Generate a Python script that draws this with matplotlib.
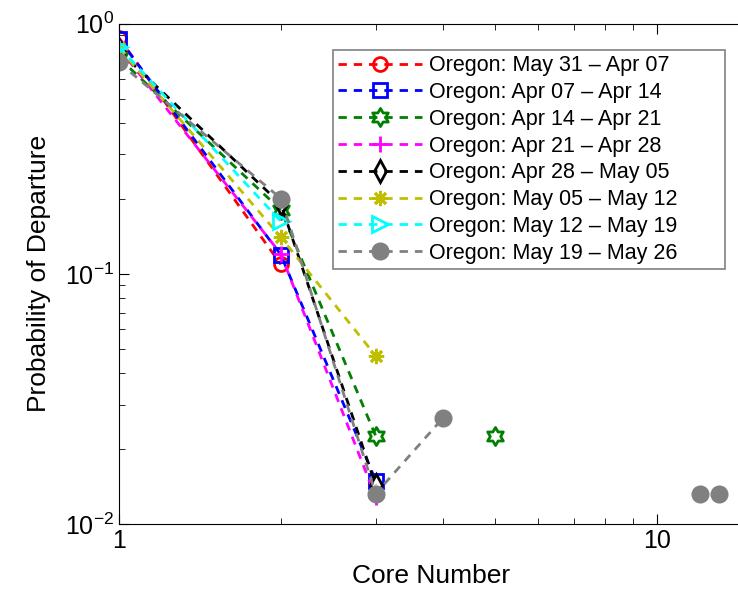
import numpy as np
import matplotlib.pyplot as plt
from matplotlib.path import Path

plt.rcParams['font.family'] = ['Liberation Sans', 'DejaVu Sans']

# Data (nan = zero probability, not drawn on log axes)
labels = ['Oregon: May 31 \u2013 Apr 07', 'Oregon: Apr 07 \u2013 Apr 14',
          'Oregon: Apr 14 \u2013 Apr 21', 'Oregon: Apr 21 \u2013 Apr 28',
          'Oregon: Apr 28 \u2013 May 05', 'Oregon: May 05 \u2013 May 12',
          'Oregon: May 12 \u2013 May 19', 'Oregon: May 19 \u2013 May 26']

x_red = [1, 2]
y_red = [0.88, 0.109]
x_blue = [1, 2, 3]
y_blue = [0.87, 0.119, 0.0149]
x_green = [1, 2, 3, 4, 5]
y_green = [0.73, 0.18, 0.0225, np.nan, 0.0225]
x_magenta = [1, 2, 3]
y_magenta = [0.80, 0.12, 0.0128]
x_black = [1, 2, 3]
y_black = [0.78, 0.19, 0.0143]
x_yellow = [1, 2, 3]
y_yellow = [0.80, 0.14, 0.047]
x_cyan = [1, 2]
y_cyan = [0.81, 0.162]
x_gray = [1, 2, 3, 4, 5, 6, 7, 8, 9, 10, 11, 12, 13]
y_gray = [0.70, 0.20, 0.0132, 0.0265, np.nan, np.nan, np.nan, np.nan,
          np.nan, np.nan, np.nan, 0.0132, 0.0132]

# six-pointed star (MATLAB hexagram)
ang = np.pi / 2 + np.arange(12) * np.pi / 6
rad = np.where(np.arange(12) % 2 == 0, 1.0, 1 / np.sqrt(3))
verts = np.column_stack([rad * np.cos(ang), rad * np.sin(ang)])
verts = np.vstack([verts, verts[0]])
hexagram = Path(verts, [Path.MOVETO] + [Path.LINETO] * 11 + [Path.CLOSEPOLY])

series = [
    (x_red, y_red, 'o', False, 10),
    (x_blue, y_blue, 's', False, 10),
    (x_green, y_green, hexagram, False, 13),
    (x_magenta, y_magenta, '+', True, 12),
    (x_black, y_black, 'd', False, 11),
    (x_yellow, y_yellow, (8, 2, 0), True, 11),
    (x_cyan, y_cyan, '>', False, 11),
    (x_gray, y_gray, 'o', True, 11),
]
colors = ['#ff0000', '#0000ff', '#008000', '#ff00ff', '#000000', '#bfbf00', '#00ffff', '#808080']

fig = plt.figure(figsize=(7.38, 5.92), dpi=100)
ax = fig.add_axes([0.161, 0.115, 0.845, 0.845])

for (xs, ys, mk, filled, ms), col, lab in zip(series, colors, labels):
    face = col if filled else 'none'
    ax.plot(xs, ys, color=col, ls='--', dashes=(3, 2.5), lw=2, marker=mk,
            mfc=face, mec=col, mew=2, ms=ms, label=lab)

ax.set_xscale('log')
ax.set_yscale('log')
ax.set_xlim(1, 14.4)
ax.set_ylim(1e-2, 1e0)
ax.set_xticks([1, 10])
ax.set_xticklabels(['1', '10'])
ax.tick_params(which='both', direction='in', top=True, right=False, labelsize=18)
ax.tick_params(which='major', length=7)
ax.tick_params(which='minor', length=4)
ax.spines['right'].set_visible(False)
ax.set_xlabel('Core Number', fontsize=19, labelpad=8)
ax.set_ylabel('Probability of Departure', fontsize=19, labelpad=10)

leg = ax.legend(loc='upper left', bbox_to_anchor=(0.343, 0.948, 0.629, 0.0),
                mode='expand', borderaxespad=0, fontsize=15.5,
                handlelength=3.9, labelspacing=0.27, handletextpad=0.3,
                borderpad=0.25, fancybox=False, framealpha=1)
leg.get_frame().set_edgecolor('#808080')
leg.get_frame().set_linewidth(1.2)

fig.savefig('out.png', dpi=100)
